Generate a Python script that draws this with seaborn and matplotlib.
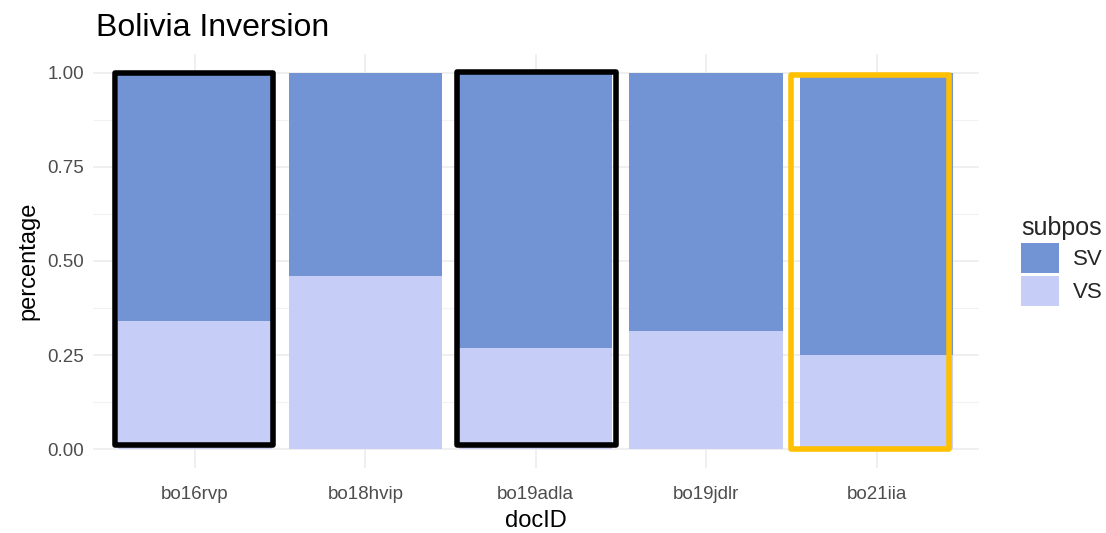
import numpy as np
import pandas as pd
import matplotlib
matplotlib.use('Agg')
import matplotlib.pyplot as plt
from matplotlib.patches import Rectangle
import seaborn as sns

# Data
doc_ids = ['bo16rvp', 'bo18hvip', 'bo19adla', 'bo19jdlr', 'bo21iia']
vs_share = [0.34, 0.46, 0.27, 0.315, 0.25]
sv_share = [1 - v for v in vs_share]
subpos_levels = ['SV', 'VS']
subpos_colors = ['#7294D4', '#C6CDF7']

# Hand-drawn highlight boxes: docID, colour, left/right offset from bar centre, bottom, top
highlights = [
    ('bo16rvp', 'black', -0.47, 0.457, 0.011, 1.0),
    ('bo19adla', 'black', -0.46, 0.47, 0.011, 1.003),
    ('bo21iia', '#FFC000', -0.504, 0.428, 0.0, 0.995),
]

df = pd.DataFrame({
    'docID': doc_ids * 2,
    'subpos': ['SV'] * len(doc_ids) + ['VS'] * len(doc_ids),
    'percentage': sv_share + vs_share,
})

sns.set_theme(style='whitegrid')
plt.rcParams['font.family'] = ['Liberation Sans', 'DejaVu Sans']

fig = plt.figure(figsize=(11.06, 5.33), dpi=100)
ax = fig.add_axes([0.0838, 0.122, 0.885 - 0.0838, 0.8987 - 0.122])

sns.histplot(data=df, x='docID', hue='subpos', weights='percentage',
             multiple='stack', shrink=0.9, hue_order=subpos_levels,
             palette=subpos_colors, alpha=1, linewidth=0, ax=ax)

# ggplot-like panel
ax.set_xlim(-0.6, len(doc_ids) - 0.4)
ax.set_ylim(-0.05, 1.05)
ax.set_yticks([0, 0.25, 0.5, 0.75, 1.0])
ax.set_yticklabels(['0.00', '0.25', '0.50', '0.75', '1.00'])
ax.set_yticks([0.125, 0.375, 0.625, 0.875], minor=True)
ax.grid(which='major', color='#EBEBEB', linewidth=1.1)
ax.grid(which='minor', axis='y', color='#F2F2F2', linewidth=0.8)
ax.set_axisbelow(True)
for s in ax.spines.values():
    s.set_visible(False)
ax.tick_params(axis='x', length=0, pad=13, labelsize=13.5, labelcolor='#4D4D4D')
ax.tick_params(axis='y', length=0, pad=6, labelsize=13.5, labelcolor='#4D4D4D')
ax.tick_params(which='minor', length=0)
ax.set_xlabel('docID', fontsize=17, color='black', labelpad=5)
ax.set_ylabel('percentage', fontsize=17, color='black', labelpad=6)
ax.set_title('Bolivia Inversion', loc='left', fontsize=23, color='black', pad=13, x=0.004)

# highlight rectangles around selected bars
for doc, col, lo, hi, bot, top in highlights:
    i = doc_ids.index(doc)
    ax.add_patch(Rectangle((i + lo, bot), hi - lo, top - bot, fill=False,
                           edgecolor=col, linewidth=4, joinstyle='round',
                           clip_on=False, zorder=5))

sns.move_legend(ax, 'center left', bbox_to_anchor=(1.035, 0.5), title='subpos',
                frameon=False, fontsize=16, title_fontsize=18,
                handlelength=1.71, handleheight=1.71, labelspacing=0.14,
                handletextpad=0.63, borderpad=0, alignment='left')

fig.savefig('out.png', dpi=100)
